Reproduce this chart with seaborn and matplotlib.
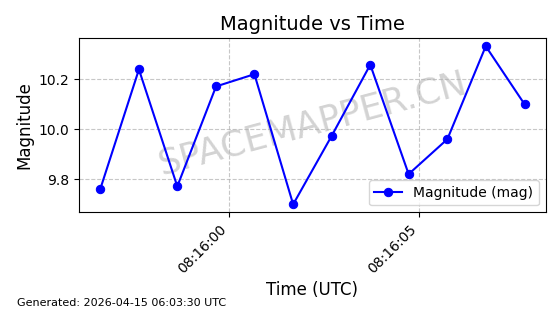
import matplotlib
matplotlib.use("Agg")
import matplotlib.pyplot as plt
import matplotlib.dates as mdates
import seaborn as sns
import pandas as pd

times = ["2026-04-15 08:15:56.60", "2026-04-15 08:15:57.62", "2026-04-15 08:15:58.63",
         "2026-04-15 08:15:59.65", "2026-04-15 08:16:00.66", "2026-04-15 08:16:01.68",
         "2026-04-15 08:16:02.69", "2026-04-15 08:16:03.71", "2026-04-15 08:16:04.72",
         "2026-04-15 08:16:05.74", "2026-04-15 08:16:06.75", "2026-04-15 08:16:07.77"]
magnitudes = [9.76, 10.24, 9.772, 10.172, 10.221, 9.70, 9.973, 10.259, 9.821, 9.961, 10.333, 10.101]
series_label = "Magnitude (mag)"
title = "Magnitude vs Time"
xlabel = "Time (UTC)"
ylabel = "Magnitude"
footer = "Generated: 2026-04-15 06:03:30 UTC"
watermark = "SPACEMAPPER.CN"

df = pd.DataFrame({"time": pd.to_datetime(times), "mag": magnitudes})

fig, ax = plt.subplots(figsize=(5.6, 3.14), dpi=100)
fig.subplots_adjust(left=0.141, right=0.9745, top=0.878, bottom=0.324)

sns.lineplot(data=df, x="time", y="mag", ax=ax, color="blue", marker="o",
             markersize=6, markeredgecolor="blue", linewidth=1.5, label=series_label)

ax.set_title(title, fontsize=14)
ax.set_xlabel(xlabel, fontsize=12)
ax.set_ylabel(ylabel, fontsize=12)
ax.grid(True, linestyle="--", alpha=0.7)
ax.xaxis.set_major_locator(mdates.SecondLocator(bysecond=range(0, 60, 5)))
ax.xaxis.set_major_formatter(mdates.DateFormatter("%H:%M:%S"))
plt.setp(ax.get_xticklabels(), rotation=45, ha="right")
ax.set_yticks([9.8, 10.0, 10.2])
ax.legend(loc="lower right")

ax.text(0.5, 0.51, watermark, transform=ax.transAxes, fontsize=25.5, color="gray",
        alpha=0.35, rotation=15, ha="center", va="center", zorder=1)
fig.text(0.03, 0.025, footer, fontsize=8)

fig.savefig("out.png", dpi=100)
